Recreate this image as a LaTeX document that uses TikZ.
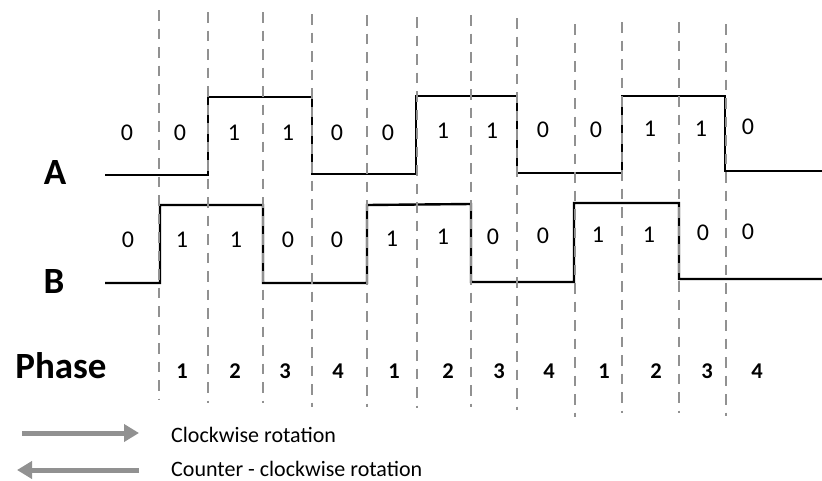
\documentclass[tikz,border=0pt]{standalone}
\usepackage{fontspec}
\setmainfont{Carlito}
\usetikzlibrary{arrows.meta}
\definecolor{gridgray}{RGB}{145,145,145}
\definecolor{arrowgray}{RGB}{145,145,145}
\tikzset{
  signal/.style={line width=2.4pt, black, line join=miter},
  phaseline/.style={line width=2.6pt, gridgray, dash pattern=on 10.5pt off 8pt},
  bit/.style={inner sep=0pt, font=\fontsize{24}{28}\selectfont},
  phasenum/.style={inner sep=0pt, font=\fontsize{22.5}{26}\selectfont\bfseries},
  chanlabel/.style={inner sep=0pt, font=\fontsize{37}{44}\selectfont\bfseries},
  legendtext/.style={inner sep=0pt, anchor=base west, font=\fontsize{22}{26}\selectfont},
  legendarrow/.style={line width=5pt, arrowgray, -{Triangle[length=15pt,width=17pt]}}
}
\begin{document}
\begin{tikzpicture}[x=1pt,y=-1pt]
\useasboundingbox (0,0) rectangle (822,480);

% channel A waveform
\draw[signal] (105,175) -- (208,175) -- (208,97) -- (312,97) -- (312,174)
  -- (416,174) -- (416,96) -- (517,96) -- (517,173) -- (622,173)
  -- (622,96) -- (725,96) -- (725,171) -- (822,171);

% channel B waveform
\draw[signal] (105,283) -- (160,283) -- (160,205) -- (263,205) -- (263,283)
  -- (367,283) -- (367,205) -- (471,204) -- (471,282) -- (574,282)
  -- (574,203) -- (679,203) -- (679,279) -- (822,279);

% phase boundaries
\foreach \i/\x/\t/\b in {1/159/10/400, 2/208/12/403, 3/263/12/403, 4/312/14/407,
  5/367/15/407, 6/417/17/408, 7/471/15/407, 8/517/18/410,
  9/575/24/417, 10/622/22/413, 11/679/22/413, 12/726/24/416}{
  \coordinate (t\i) at (\x,\t);
  \coordinate (b\i) at (\x,\b);
  \draw[phaseline] (t\i) -- (b\i);
}

% channel labels
\node[chanlabel] (labA) at (55,172) {A};
\node[chanlabel] (labB) at (54,281) {B};
\node[chanlabel] (labP) at (61,366) {Phase};

% bit values of channel A
\foreach \i/\x/\y/\v in {1/127/133/0, 2/180/133/0, 3/234/133/1, 4/288/133/1,
  5/337/133/0, 6/388/133/0, 7/443/131/1, 8/492/131/1, 9/543/130/0,
  10/596/130/0, 11/650/129/1, 12/701/129/1, 13/748/127/0}{
  \node[bit] (a\i) at (\x,\y) {\v};
}

% bit values of channel B
\foreach \i/\x/\y/\v in {1/128/240/0, 2/182/240/1, 3/236/240/1, 4/288/240/0,
  5/337/240/0, 6/392/239/1, 7/443/237/1, 8/493/237/0, 9/543/236/0,
  10/598/235/1, 11/649/235/1, 12/703/233/0, 13/748/232/0}{
  \node[bit] (bb\i) at (\x,\y) {\v};
}

% phase numbers
\foreach \i/\x/\v in {1/182/1, 2/235/2, 3/285/3, 4/338/4, 5/394/1, 6/448/2,
  7/499/3, 8/549/4, 9/604/1, 10/656/2, 11/707/3, 12/757/4}{
  \node[phasenum] (p\i) at (\x,371) {\v};
}

% legend
\coordinate (cwS) at (22,433);
\coordinate (cwE) at (139,433);
\coordinate (ccS) at (139,470);
\coordinate (ccE) at (17,470);
\draw[legendarrow] (cwS) -- (cwE);
\draw[legendarrow] (ccS) -- (ccE);
\node[legendtext] (cwT) at (171,442) {Clockwise rotation};
\node[legendtext] (ccT) at (171,476) {Counter - clockwise rotation};
\end{tikzpicture}
\end{document}
